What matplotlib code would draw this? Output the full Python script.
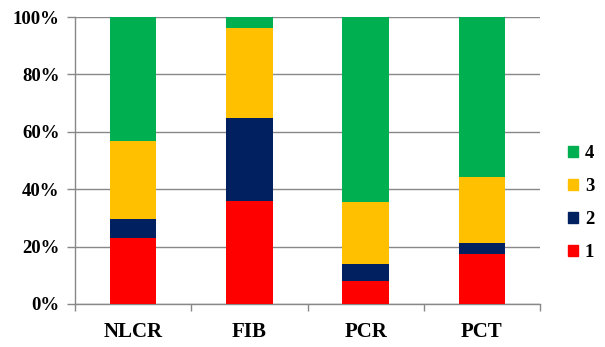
import matplotlib.pyplot as plt
from matplotlib.patches import Patch

categories = ['NLCR', 'FIB', 'PCR', 'PCT']
grade_1 = [22.9, 36.0, 8.1, 17.3]
grade_2 = [6.6, 28.9, 6.0, 3.8]
grade_3 = [27.4, 31.4, 21.4, 23.0]
grade_4 = [43.1, 3.7, 64.5, 55.9]
series_labels = ['1', '2', '3', '4']
colors = ['#FF0000', '#002060', '#FFC000', '#00B050']
y_ticks = [0, 20, 40, 60, 80, 100]

plt.rcParams['font.family'] = ['Liberation Serif', 'DejaVu Serif']
plt.rcParams['font.weight'] = 'bold'

fig = plt.figure(figsize=(6.05, 3.47), dpi=100)
ax = fig.add_axes([75 / 605, 1 - 304 / 347, 465 / 605, 287 / 347])

x = range(len(categories))
bottom = [0] * len(categories)
for vals, lab, col in zip([grade_1, grade_2, grade_3, grade_4], series_labels, colors):
    ax.bar(x, vals, width=0.4, bottom=bottom, color=col, label=lab, zorder=3)
    bottom = [b + v for b, v in zip(bottom, vals)]

ax.set_xlim(-0.5, 3.5)
ax.set_ylim(0, 100)
ax.set_yticks(y_ticks)
ax.set_yticklabels([f'{t}%' for t in y_ticks], fontsize=13.5, fontweight='bold')
ax.yaxis.grid(True, color='#888888', linewidth=1, zorder=0)

# category boundaries get the tick marks, labels sit in the middle
ax.set_xticks([-0.5, 0.5, 1.5, 2.5, 3.5])
ax.set_xticklabels([])
ax.set_xticks(list(x), minor=True)
ax.set_xticklabels(categories, minor=True, fontsize=15, fontweight='bold')
ax.tick_params(axis='x', which='minor', length=0, pad=13)
ax.tick_params(axis='x', which='major', length=5, color='#888888', width=1)
ax.tick_params(axis='y', length=6, color='#888888', width=1, pad=5)

for side in ['top', 'right']:
    ax.spines[side].set_visible(False)
for side in ['left', 'bottom']:
    ax.spines[side].set_color('#888888')
    ax.spines[side].set_linewidth(1)

handles = [Patch(color=c, label=l) for c, l in zip(colors, series_labels)][::-1]
fig.legend(handles=handles, loc='center left', bbox_to_anchor=(551 / 605, 1 - 203 / 347),
           frameon=False, prop={'weight': 'bold', 'size': 13.5},
           handlelength=0.55, handleheight=0.55, handletextpad=0.35, labelspacing=0.85)

fig.savefig('out.png', dpi=100)
